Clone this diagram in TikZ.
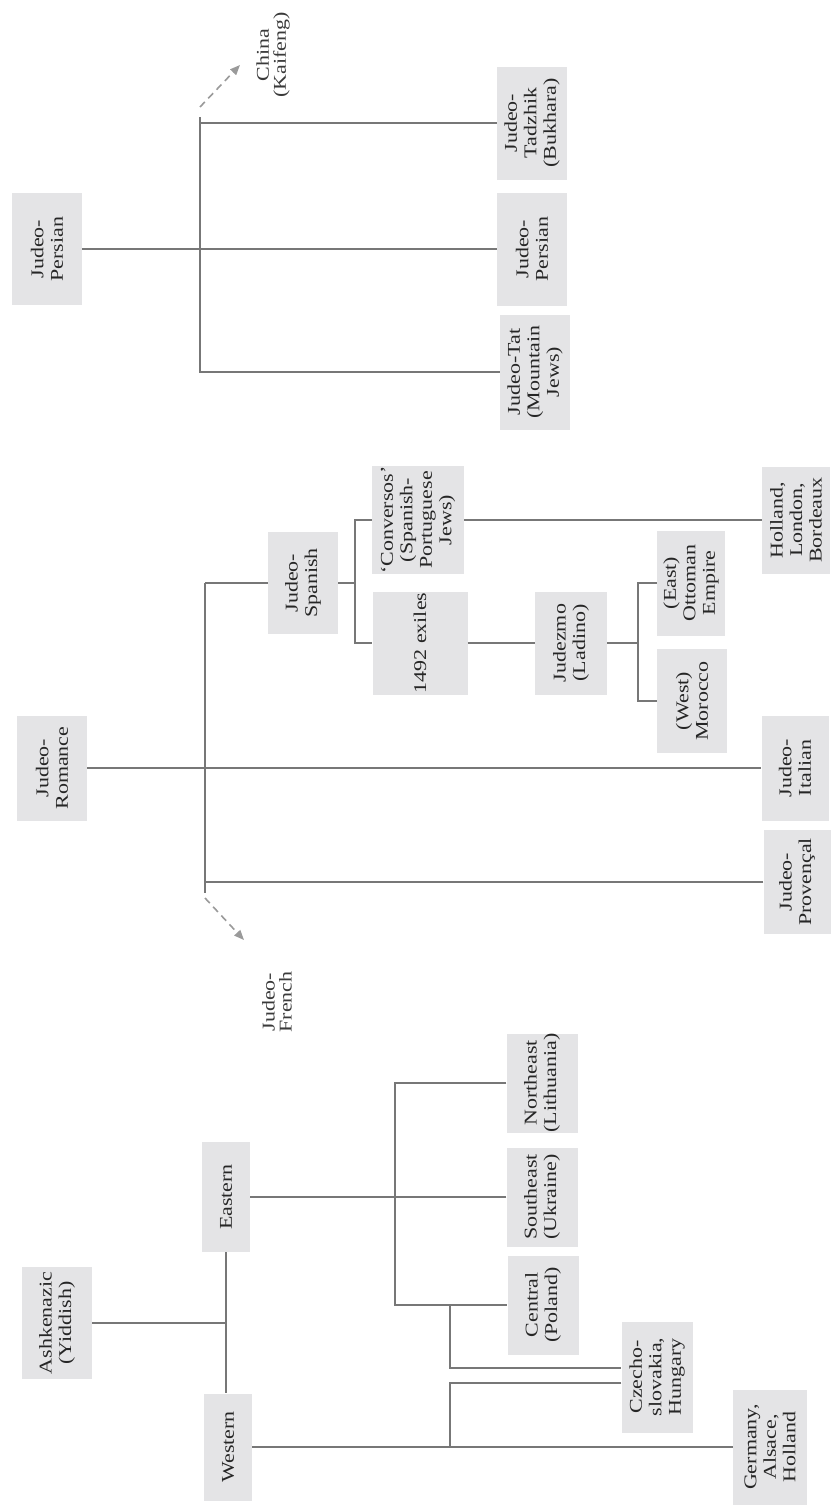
\documentclass[tikz,border=0pt]{standalone}
\usepackage{fontspec}
\setmainfont[FakeStretch=1.22]{Liberation Serif}
\usetikzlibrary{arrows.meta}
\definecolor{boxgray}{HTML}{E4E4E6}
\definecolor{linegray}{HTML}{777777}
\definecolor{txtgray}{HTML}{262626}
\definecolor{lblgray}{HTML}{3A3A3A}
\definecolor{dashgray}{HTML}{9A9A9A}
\tikzset{
  lbox/.style={fill=boxgray, rotate=90, inner sep=0pt, align=center, text=txtgray,
    font=\fontsize{18}{19.5}\selectfont},
  sz/.style 2 args={minimum height=#1, minimum width=#2},
  ln/.style={draw=linegray, line width=1.3pt},
  dsh/.style={draw=dashgray, line width=1.6pt, dash pattern=on 7pt off 5pt,
    -{Triangle[length=10pt,width=8pt]}},
  lbl/.style={rotate=90, inner sep=0pt, align=center, text=lblgray,
    font=\fontsize{18}{17}\selectfont}
}
\begin{document}
\begin{tikzpicture}[x=1pt,y=-1pt]
\useasboundingbox[fill=white] (0,0) rectangle (830,1507);

% ---------- Judeo-Persian group ----------
\node[lbox, sz={70}{112}] (jp) at (47,249) {Judeo-\\Persian};
\node[lbox, sz={70}{113}] (jtadz) at (532,123) {Judeo-\\Tadzhik\\(Bukhara)};
\node[lbox, sz={70}{113}] (jpers) at (532,249) {Judeo-\\Persian};
\node[lbox, sz={70}{115}] (jtat) at (535,372) {Judeo-Tat\\(Mountain\\Jews)};
\node[lbl] (china) at (273,55) {China\\(Kaifeng)};
\coordinate (pt) at (200,117);
\coordinate (pb) at (200,373);
\coordinate (cs) at (200,107);
\coordinate (ce) at (240,65);
\draw[ln] (pt) -- (pb);
\draw[ln] (jp.south) -- (jp.south -| pt);
\draw[ln] (jtadz.north) -- (jtadz.north -| pt);
\draw[ln] (jpers.north) -- (jpers.north -| pt);
\draw[ln] (jtat.north) -- (jtat.north -| pt);
\draw[dsh] (cs) -- (ce);

% ---------- Judeo-Romance group ----------
\node[lbox, sz={70}{105}] (jr) at (52,768) {Judeo-\\Romance};
\node[lbox, sz={70}{102}] (js) at (303,583) {Judeo-\\Spanish};
\node[lbox, sz={92}{105}] (conv) at (418,520) {`Conversos'\\(Spanish-\\Portuguese\\Jews)};
\node[lbox, sz={95}{103}] (exiles) at (420,643) {1492 exiles};
\node[lbox, sz={72}{103}] (jud) at (571,643) {Judezmo\\(Ladino)};
\node[lbox, sz={68}{105}] (east) at (691,583) {(East)\\Ottoman\\Empire};
\node[lbox, sz={70}{104}] (west) at (692,701) {(West)\\Morocco};
\node[lbox, sz={68}{107}] (holl) at (796,520) {Holland,\\London,\\Bordeaux};
\node[lbox, sz={67}{105}] (jit) at (795,768) {Judeo-\\Italian};
\node[lbox, sz={67}{104}] (jprov) at (797,882) {Judeo-\\Proven\c{c}al};
\node[lbl] (jfr) at (277,1002) {Judeo-\\French};
\coordinate (rt) at (205,583);
\coordinate (rb) at (205,893);
\coordinate (fs) at (205,898);
\coordinate (fe) at (244,940);
\coordinate (sv) at (355,583);
\coordinate (lv) at (638,643);
\draw[ln] (rt) -- (rb);
\draw[ln] (rt) -- (js.north);
\draw[ln] (jr.south) -- (jit.north);
\draw[ln] (jprov.north) -- (jprov.north -| rt);
\draw[dsh] (fs) -- (fe);
\draw[ln] (js.south) -- (sv);
\draw[ln] (conv.north) -- (conv.north -| sv) -- (exiles.north -| sv) -- (exiles.north);
\draw[ln] (conv.south) -- (holl.north);
\draw[ln] (exiles.south) -- (jud.north);
\draw[ln] (jud.south) -- (lv);
\draw[ln] (east.north) -- (east.north -| lv) -- (west.north -| lv) -- (west.north);

% ---------- Ashkenazic group ----------
\node[lbox, sz={70}{112}] (ash) at (57,1323) {Ashkenazic\\(Yiddish)};
\node[lbox, sz={48}{110}] (eastern) at (226,1197) {Eastern};
\node[lbox, sz={48}{107}] (western) at (228,1447) {Western};
\node[lbox, sz={71}{99}] (ne) at (542,1083) {Northeast\\(Lithuania)};
\node[lbox, sz={71}{99}] (se) at (542,1197) {Southeast\\(Ukraine)};
\node[lbox, sz={71}{99}] (ce) at (543,1305) {Central\\(Poland)};
\node[lbox, sz={71}{111}] (czh) at (657,1377) {Czecho-\\slovakia,\\Hungary};
\node[lbox, sz={74}{115}] (ger) at (770,1447) {Germany,\\Alsace,\\Holland};
\coordinate (av) at (395,1083);
\coordinate (cv) at (450,1305);
\coordinate (c1) at (450,1368);
\coordinate (c2) at (450,1383);
\coordinate (ay) at (226,1323);
\draw[ln] (eastern.west) -- (eastern.west |- western.east);
\draw[ln] (ash.south) -- (ay);
\draw[ln] (eastern.south) -- (eastern.south -| av);
\draw[ln] (ne.north) -- (ne.north -| av) -- (ce.north -| av) -- (ce.north);
\draw[ln] (se.north) -- (se.north -| av);
\draw[ln] (cv) -- (c1) -- (c1 -| czh.north);
\draw[ln] (c2 -| czh.north) -- (c2) -- (western.south -| cv);
\draw[ln] (western.south) -- (ger.north);
\end{tikzpicture}
\end{document}
